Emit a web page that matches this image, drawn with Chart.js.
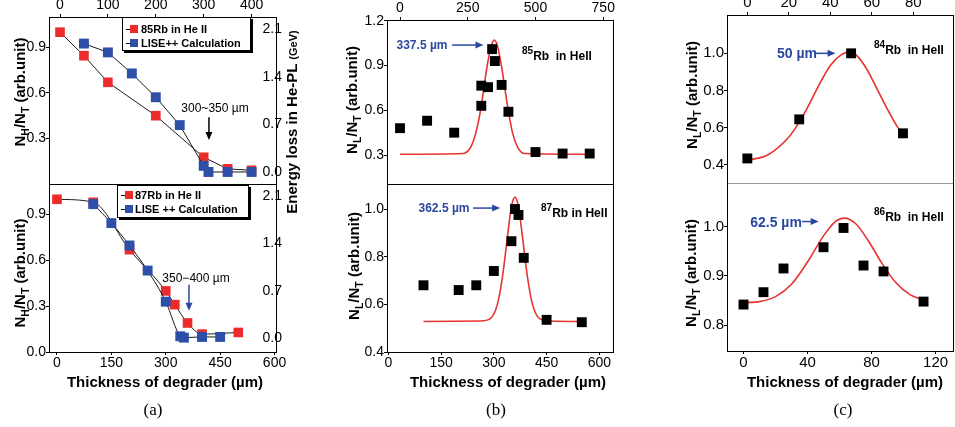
<!DOCTYPE html>
<html lang="en">
<head>
    <meta charset="UTF-8">
    <title>Rb in He II - thickness of degrader</title>
    <script src="https://cdn.jsdelivr.net/npm/chart.js"></script>
    <style>
        body { margin: 0; background: #fff; }
        #page { position: relative; width: 955px; height: 427px; overflow: hidden; font-family: "Liberation Sans", Arial, sans-serif; color: #000; }
        .plot { position: absolute; }
        .t { position: absolute; white-space: nowrap; transform: translate(-50%, -50%); }
        .v { position: absolute; white-space: nowrap; transform: translate(-50%, -50%) rotate(-90deg); font-weight: bold; font-size: 15px; }
        .v sub { font-size: 70%; }
        .xt { font-weight: bold; font-size: 15px; }
        .cap { font-family: "Liberation Serif", serif; font-size: 17px; }
        .note { font-size: 12px; }
        .blue { color: #2b48a0; font-weight: bold; }
        .iso { position: absolute; white-space: nowrap; font-weight: bold; font-size: 12px; }
        .iso sup { font-size: 10px; vertical-align: 6px; }
        .legend { position: absolute; border: 1px solid #000; box-shadow: 2px 2px 0 #000; background: #fff; font-weight: bold; font-size: 11px; box-sizing: border-box; }
        .legend div { height: 14px; line-height: 14px; white-space: nowrap; position: relative; }
        .legend i { position: absolute; left: 3px; top: 7px; width: 4px; height: 1px; background: #000; }
        .legend b { position: absolute; left: 7px; top: 3px; width: 8px; height: 8px; }
    </style>
</head>
<body>
<div id="page">
    <div class="plot" id="aTop"><canvas></canvas></div>
    <div class="plot" id="aBot"><canvas></canvas></div>
    <div class="plot" id="bTop"><canvas></canvas></div>
    <div class="plot" id="bBot"><canvas></canvas></div>
    <div class="plot" id="cTop"><canvas></canvas></div>
    <div class="plot" id="cBot"><canvas></canvas></div>

    <!-- (a) -->
    <div class="legend" style="left:122px;top:17px;width:129px;height:34px;padding-top:4px">
        <div style="padding-left:18px"><i></i><b style="background:#ee2b2b"></b>85Rb in He II</div>
        <div style="padding-left:18px"><i></i><b style="background:#2d4fa8"></b>LISE++ Calculation</div>
    </div>
    <div class="legend" style="left:117px;top:185px;width:132px;height:33px;padding-top:2px">
        <div style="padding-left:17px"><i></i><b style="background:#ee2b2b"></b>87Rb in He II</div>
        <div style="padding-left:17px"><i></i><b style="background:#2d4fa8"></b>LISE ++ Calculation</div>
    </div>
    <div class="t note" style="left:215px;top:108px">300~350 µm</div>
    <div class="t note" style="left:196px;top:278px">350−400 µm</div>
    <div class="v" style="left:21px;top:92px">N<sub>H</sub>/N<sub>T</sub> (arb.unit)</div>
    <div class="v" style="left:21px;top:273px">N<sub>H</sub>/N<sub>T</sub> (arb.unit)</div>
    <div class="v" style="left:291px;top:122px">Energy loss in He-PL <span style="font-size:11px">(GeV)</span></div>
    <div class="t xt" style="left:165px;top:381px">Thickness of degrader (µm)</div>
    <div class="t cap" style="left:153px;top:410px">(a)</div>

    <!-- (b) -->
    <div class="t blue" style="left:422px;top:45px;font-size:12px">337.5 µm</div>
    <div class="t blue" style="left:444px;top:208px;font-size:12px">362.5 µm</div>
    <div class="iso" style="left:522px;top:45px"><sup>85</sup>Rb&nbsp; in HeII</div>
    <div class="iso" style="left:541px;top:202px"><sup>87</sup>Rb in HeII</div>
    <div class="v" style="left:353px;top:100px">N<sub>L</sub>/N<sub>T</sub> (arb.unit)</div>
    <div class="v" style="left:355px;top:266px">N<sub>L</sub>/N<sub>T</sub> (arb.unit)</div>
    <div class="t xt" style="left:508px;top:381px">Thickness of degrader (µm)</div>
    <div class="t cap" style="left:496px;top:410px">(b)</div>

    <!-- (c) -->
    <div class="t blue" style="left:797px;top:53px;font-size:14px">50 µm</div>
    <div class="t blue" style="left:776px;top:222px;font-size:14px">62.5 µm</div>
    <div class="iso" style="left:874px;top:39px"><sup>84</sup>Rb&nbsp; in HeII</div>
    <div class="iso" style="left:874px;top:206px"><sup>86</sup>Rb&nbsp; in HeII</div>
    <div class="v" style="left:693px;top:95px">N<sub>L</sub>/N<sub>T</sub> (arb.unit)</div>
    <div class="v" style="left:692px;top:273px">N<sub>L</sub>/N<sub>T</sub> (arb.unit)</div>
    <div class="t xt" style="left:845px;top:381px">Thickness of degrader (µm)</div>
    <div class="t cap" style="left:843px;top:410px">(c)</div>
</div>

<script>
    // ---- data ----
    // (a) upper: 85Rb measured N_H/N_T and LISE++ energy loss (GeV)
    const a85X = [0, 50, 100, 200, 300, 350, 400];
    const a85Y = [1.0, 0.845, 0.67, 0.45, 0.176, 0.10, 0.09];
    const a85LiseX = [50, 100, 150, 200, 250, 300, 310, 350, 400];
    const a85LiseE = [1.89, 1.76, 1.45, 1.10, 0.69, 0.09, 0.0, 0.0, 0.0];
    // (a) lower: 87Rb
    const a87X = [0, 100, 200, 300, 325, 360, 400, 500];
    const a87Y = [1.0, 0.98, 0.67, 0.40, 0.31, 0.19, 0.117, 0.128];
    const a87LiseX = [100, 150, 200, 250, 300, 340, 350, 400, 450];
    const a87LiseE = [1.98, 1.70, 1.37, 1.0, 0.54, 0.03, 0.01, 0.02, 0.02];

    // (b) upper: 85Rb N_L/N_T and fitted peak
    const b85X = [0, 100, 200, 300, 300, 325, 340, 350, 375, 400, 500, 600, 700];
    const b85Y = [0.48, 0.53, 0.45, 0.765, 0.63, 0.755, 1.01, 0.93, 0.77, 0.59, 0.32, 0.31, 0.31];
    const b85FitX = [0, 230, 260, 280, 300, 320, 335, 348, 360, 375, 395, 415, 435, 460, 700];
    const b85FitY = [0.305, 0.31, 0.35, 0.45, 0.63, 0.88, 1.02, 1.07, 1.03, 0.89, 0.65, 0.45, 0.35, 0.31, 0.305];
    // (b) lower: 87Rb
    const b87X = [100, 200, 250, 300, 350, 360, 370, 385, 450, 550];
    const b87Y = [0.68, 0.66, 0.68, 0.74, 0.865, 1.0, 0.975, 0.795, 0.535, 0.525];
    const b87FitX = [100, 260, 290, 310, 325, 340, 350, 360, 370, 380, 395, 410, 430, 460, 550];
    const b87FitY = [0.528, 0.53, 0.54, 0.60, 0.72, 0.90, 1.01, 1.05, 1.01, 0.90, 0.72, 0.60, 0.54, 0.53, 0.528];

    // (c) upper: 84Rb
    const c84X = [0, 25, 50, 75];
    const c84Y = [0.435, 0.645, 1.0, 0.57];
    const c84FitX = [0, 10, 20, 25, 30, 35, 40, 45, 48, 52, 57, 62, 67, 72, 75];
    const c84FitY = [0.425, 0.455, 0.55, 0.63, 0.73, 0.84, 0.935, 0.99, 1.005, 0.995, 0.925, 0.82, 0.71, 0.61, 0.565];
    // (c) lower: 86Rb
    const c86X = [0, 12.5, 25, 50, 62.5, 75, 87.5, 112.5];
    const c86Y = [0.842, 0.867, 0.915, 0.958, 0.997, 0.921, 0.909, 0.848];
    const c86FitX = [0, 10, 20, 30, 40, 50, 57, 63, 70, 78, 86, 95, 104, 112.5];
    const c86FitY = [0.846, 0.848, 0.858, 0.883, 0.928, 0.981, 1.009, 1.017, 1.006, 0.971, 0.928, 0.887, 0.862, 0.851];

    // tick labels
    const aTopTicks = [0, 100, 200, 300, 400];
    const aBotTicks = [0, 150, 300, 450, 600];
    const aTopYTicks = [0.3, 0.6, 0.9];
    const aBotYTicks = [0.0, 0.3, 0.6, 0.9];
    const aETicks = [0.0, 0.7, 1.4, 2.1];
    const bTopTicks = [0, 250, 500, 750];
    const bBotTicks = [0, 150, 300, 450, 600];
    const bTopYTicks = [0.3, 0.6, 0.9, 1.2];
    const bBotYTicks = [0.4, 0.6, 0.8, 1.0];
    const cTopTicks = [0, 20, 40, 60, 80];
    const cBotTicks = [0, 40, 80, 120];
    const cTopYTicks = [0.4, 0.6, 0.8, 1.0];
    const cBotYTicks = [0.8, 0.9, 1.0];

    // ---- drawing ----
    const RED = '#ee2b2b', BLUE = '#2d4fa8', FIT = '#e8322f', ABLUE = '#2b48a0';
    const M = { l: 46, r: 30, t: 22, b: 26 };

    const pts = (xs, ys) => xs.map((x, i) => ({ x: x, y: ys[i] }));
    const f0 = v => String(v);
    const f1 = v => v.toFixed(1);

    function scale(position, a, size, fontSize, borderColor) {
        const horiz = position === 'top' || position === 'bottom';
        const s = {
            type: 'linear', axis: horiz ? 'x' : 'y', position: position,
            min: a ? a.min : 0, max: a ? a.max : 1,
            border: { display: borderColor !== null, color: borderColor || '#000', width: 1 },
            grid: { display: !!a, drawOnChartArea: false, drawTicks: !!a && !a.mirror, tickLength: 3, color: '#000' },
            ticks: {
                display: !!a, color: '#000', padding: 0, maxRotation: 0, autoSkip: false, includeBounds: false,
                font: { family: "'Liberation Sans', Arial, sans-serif", size: fontSize }
            },
            afterFit: sc => { if (horiz) sc.height = size; else sc.width = size; }
        };
        if (a) {
            s.ticks.callback = a.fmt;
            if (a.mirror) { s.ticks.mirror = true; s.ticks.padding = 6; }
            s.afterBuildTicks = sc => { sc.ticks = a.ticks.map(v => ({ value: v })); };
        }
        return s;
    }

    function arrows(list) {
        return {
            id: 'arrows',
            afterDatasetsDraw(chart) {
                const ctx = chart.ctx;
                list.forEach(a => {
                    const xs = chart.scales[a.xAxis], ys = chart.scales[a.yAxis];
                    const x1 = xs.getPixelForValue(a.from[0]), y1 = ys.getPixelForValue(a.from[1]);
                    const x2 = xs.getPixelForValue(a.to[0]), y2 = ys.getPixelForValue(a.to[1]);
                    const c = Math.cos(Math.atan2(y2 - y1, x2 - x1)), s = Math.sin(Math.atan2(y2 - y1, x2 - x1));
                    ctx.save();
                    ctx.strokeStyle = ctx.fillStyle = a.color;
                    ctx.lineWidth = 1.5;
                    ctx.beginPath();
                    ctx.moveTo(x1, y1);
                    ctx.lineTo(x2 - 5 * c, y2 - 5 * s);
                    ctx.stroke();
                    ctx.beginPath();
                    ctx.moveTo(x2, y2);
                    ctx.lineTo(x2 - 8 * c + 3.5 * s, y2 - 8 * s - 3.5 * c);
                    ctx.lineTo(x2 - 8 * c - 3.5 * s, y2 - 8 * s + 3.5 * c);
                    ctx.closePath();
                    ctx.fill();
                    ctx.restore();
                });
            }
        };
    }

    function panel(id, fr, ax, datasets, arrowList) {
        const box = document.getElementById(id);
        box.style.left = (fr.l - M.l) + 'px';
        box.style.top = (fr.t - M.t) + 'px';
        box.style.width = (fr.r - fr.l + M.l + M.r) + 'px';
        box.style.height = (fr.b - fr.t + M.t + M.b) + 'px';
        new Chart(box.querySelector('canvas'), {
            type: 'scatter',
            data: { datasets: datasets },
            options: {
                responsive: true, maintainAspectRatio: false, animation: false, events: [],
                layout: { padding: 0 },
                plugins: { legend: { display: false }, tooltip: { enabled: false } },
                scales: {
                    xb: scale('bottom', ax.xb, M.b, ax.fs, ax.bb === undefined ? '#000' : ax.bb),
                    xt: scale('top', ax.xt, M.t, ax.fs, ax.bt === undefined ? '#000' : ax.bt),
                    yl: scale('left', ax.yl, M.l, ax.fs, '#000'),
                    yr: scale('right', ax.yr, M.r, ax.fs, '#000')
                }
            },
            plugins: [arrows(arrowList || [])]
        });
    }

    const marks = (data, color, xid, yid, line, smooth, order, r) => ({
        data: data, xAxisID: xid, yAxisID: yid, showLine: line,
        borderColor: '#1a1a1a', borderWidth: 1, backgroundColor: color,
        pointStyle: 'rect', pointRadius: r, pointBorderWidth: 0,
        cubicInterpolationMode: smooth ? 'monotone' : 'default', order: order
    });
    const fit = (data, xid, yid) => ({
        data: data, xAxisID: xid, yAxisID: yid, showLine: true,
        borderColor: FIT, borderWidth: 1.6, pointRadius: 0,
        cubicInterpolationMode: 'monotone', order: 2
    });

    // (a)
    panel('aTop', { l: 49, t: 17, r: 276, b: 184 }, {
        fs: 14, bb: null,
        xt: { min: -23, max: 451, ticks: aTopTicks, fmt: f0 },
        yl: { min: 0, max: 1.1, ticks: aTopYTicks, fmt: f1 },
        yr: { min: -0.177, max: 2.281, ticks: aETicks, fmt: f1, mirror: true }
    }, [
        marks(pts(a85LiseX, a85LiseE), BLUE, 'xt', 'yr', true, false, 0, 7),
        marks(pts(a85X, a85Y), RED, 'xt', 'yl', true, false, 1, 6.8)
    ], [{ xAxis: 'xt', yAxis: 'yl', from: [311, 0.44], to: [311, 0.29], color: '#000' }]);

    panel('aBot', { l: 49, t: 184, r: 276, b: 352 }, {
        fs: 14,
        xb: { min: -22, max: 604, ticks: aBotTicks, fmt: f0 },
        yl: { min: 0, max: 1.1, ticks: aBotYTicks, fmt: f1 },
        yr: { min: -0.202, max: 2.277, ticks: aETicks, fmt: f1, mirror: true }
    }, [
        marks(pts(a87LiseX, a87LiseE), BLUE, 'xb', 'yr', true, true, 0, 7),
        marks(pts(a87X, a87Y), RED, 'xb', 'yl', true, true, 1, 6.8)
    ], [{ xAxis: 'xb', yAxis: 'yl', from: [364, 0.44], to: [364, 0.27], color: ABLUE }]);

    // (b)
    panel('bTop', { l: 387, t: 20, r: 613, b: 184 }, {
        fs: 14, bb: null,
        xt: { min: -48, max: 786, ticks: bTopTicks, fmt: f0 },
        yl: { min: 0.106, max: 1.205, ticks: bTopYTicks, fmt: f1 }
    }, [
        marks(pts(b85X, b85Y), '#000', 'xt', 'yl', false, false, 0, 7),
        fit(pts(b85FitX, b85FitY), 'xt', 'yl')
    ], [{ xAxis: 'xt', yAxis: 'yl', from: [192, 1.037], to: [308, 1.037], color: ABLUE }]);

    panel('bBot', { l: 387, t: 184, r: 613, b: 352 }, {
        fs: 14,
        xb: { min: -3.7, max: 638.7, ticks: bBotTicks, fmt: f0 },
        yl: { min: 0.4, max: 1.105, ticks: bBotYTicks, fmt: f1 }
    }, [
        marks(pts(b87X, b87Y), '#000', 'xb', 'yl', false, false, 0, 7),
        fit(pts(b87FitX, b87FitY), 'xb', 'yl')
    ], [{ xAxis: 'xb', yAxis: 'yl', from: [241, 1.004], to: [318, 1.004], color: ABLUE }]);

    // (c)
    panel('cTop', { l: 727, t: 15, r: 953, b: 183 }, {
        fs: 15, bb: null,
        xt: { min: -9.8, max: 99.1, ticks: cTopTicks, fmt: f0 },
        yl: { min: 0.303, max: 1.206, ticks: cTopYTicks, fmt: f1 }
    }, [
        marks(pts(c84X, c84Y), '#000', 'xt', 'yl', false, false, 0, 7),
        fit(pts(c84FitX, c84FitY), 'xt', 'yl')
    ], [{ xAxis: 'xt', yAxis: 'yl', from: [33, 1.0], to: [42.5, 1.0], color: ABLUE }]);

    panel('cBot', { l: 727, t: 183, r: 953, b: 351 }, {
        fs: 15, bt: '#999',
        xb: { min: -10.3, max: 130.9, ticks: cBotTicks, fmt: f0 },
        yl: { min: 0.748, max: 1.088, ticks: cBotYTicks, fmt: f1 }
    }, [
        marks(pts(c86X, c86Y), '#000', 'xb', 'yl', false, false, 0, 7),
        fit(pts(c86FitX, c86FitY), 'xb', 'yl')
    ], [{ xAxis: 'xb', yAxis: 'yl', from: [36.5, 1.01], to: [47, 1.01], color: ABLUE }]);
</script>
</body>
</html>
